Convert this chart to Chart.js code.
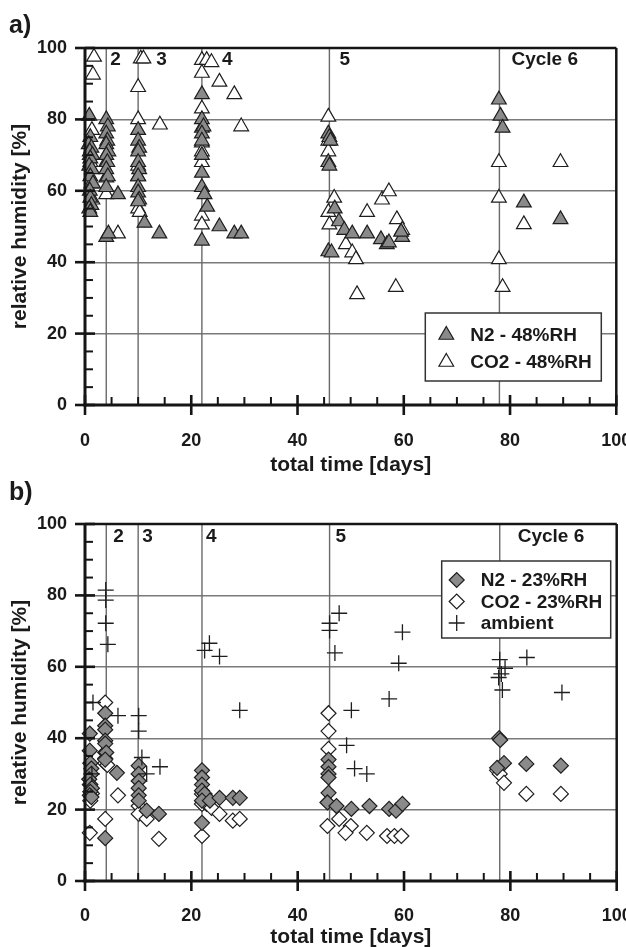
<!DOCTYPE html>
<html>
<head>
<meta charset="utf-8">
<script src="https://cdn.jsdelivr.net/npm/chart.js@4.4.1/dist/chart.umd.min.js"></script>
<style>
  body { margin: 0; background: #fff; }
  #panelA { position: absolute; left: 0; top: 0; width: 626px; height: 480px; }
  #panelB { position: absolute; left: 0; top: 480px; width: 626px; height: 470px; }
</style>
</head>
<body>
<div id="panelA"><canvas id="chartA" width="626" height="480"></canvas></div>
<div id="panelB"><canvas id="chartB" width="626" height="470"></canvas></div>
<script>
// ---- data ----

// a) 48%RH
const n2A_days = [0.8, 1, 0.7, 1.2, 0.9, 1.4, 1, 0.8, 1.3, 1, 1.5, 0.9, 1, 1.2, 0.8, 1,
    4, 4.3, 4, 4.2, 4, 4.4, 4, 4.2, 4, 4.3, 4, 4, 4.4, 6.2,
    10, 10, 10.2, 10, 10, 10.2, 10, 10, 10, 10.2, 10, 11.2, 14,
    22, 22, 22.3, 22, 22, 22, 22, 22, 22.5, 23, 22, 25.3, 28.1, 29.4,
    45.8, 46, 46.2, 45.8, 46, 45.8, 46.4, 47, 47.8, 48.8, 50.3, 53.1, 55.7, 56.8, 57.2, 59.7, 59.5,
    77.9, 78.2, 78.6, 82.6, 89.5];
const n2A_rh = [81, 75, 73, 72, 71, 70, 69, 67, 66, 64, 62, 60, 58, 56, 55, 54,
    80, 78, 76, 74, 73, 71, 70, 68, 66, 64, 61, 47, 48, 59,
    77, 74, 72, 71, 68, 66, 64, 61, 59.5, 57.5, 57, 51, 48,
    87, 80, 78, 76, 74, 70, 65, 61, 59, 55.5, 46, 50, 48, 48,
    76, 75, 74, 68, 67, 43, 42.7, 55, 51.4, 49, 48, 48, 46.4, 45, 45.5, 47, 48.5,
    85.5, 81, 77.6, 56.7, 52];

const co2A_days = [1.7, 1.5, 1.3, 1, 1.2, 1.4, 0.9,
    4, 4, 4, 6.2,
    10.5, 11, 10, 10, 10, 10, 10, 10.3, 14.1,
    22, 22.9, 23.8, 22, 25.3, 28.1, 22, 29.4, 22, 22, 22, 22, 22, 22,
    45.8, 45.8, 45.8, 46.9, 45.8, 46, 49.1, 50.3, 51, 51.2, 53.1, 55.9, 57.2, 58.7, 59.7, 58.5,
    77.9, 77.9, 77.9, 78.6, 82.6, 89.5];
const co2A_rh = [97.5, 92.5, 77, 68, 62, 57.5, 70,
    68, 63.7, 59, 48,
    97, 97, 89, 80, 67, 64, 55, 54, 78.5,
    96.6, 96.6, 96, 93, 90.5, 87, 83, 78, 77.6, 73.5, 71, 68, 53, 50.5,
    80.7, 74, 71, 58, 54, 50.5, 45, 42.7, 40.8, 31, 54, 57.5, 59.8, 52, 49, 33,
    68, 58, 40.8, 33, 50.6, 68];

// b) 23%RH
const n2B_days = [0.9, 0.9, 1, 1.2, 1.2, 0.8, 1, 1.3, 1, 0.9, 1.2,
    3.8, 3.8, 3.8, 3.8, 3.8, 4, 3.8, 3.8, 6,
    10.1, 10.1, 10.1, 10.1, 10.1, 10.1, 11.6, 13.9,
    22, 22, 22, 22, 22.5, 22, 23.5, 22, 25.3, 27.8, 29.1,
    45.8, 45.8, 45.8, 45.8, 45.8, 45.6, 47.3, 50.1, 53.5, 57.2, 58.5, 59.7,
    77.9, 78.1, 78.8, 77.5, 83, 89.5];
const n2B_rh = [41.3, 36.5, 33, 31.5, 30, 28.5, 27, 26, 25, 24, 23.5,
    47, 43.5, 42.4, 39.3, 38.5, 36, 34, 12, 30.3,
    32.3, 30, 28, 26, 24, 22.5, 19.7, 18.8,
    31, 29, 27, 25.3, 24.4, 22.5, 22.5, 16.3, 23.3, 23.3, 23.3,
    34, 32, 30, 29, 24.7, 22, 21, 20.2, 21, 20.2, 19.7, 21.6,
    40, 39.5, 33, 31.7, 32.8, 32.3];

const co2B_days = [0.9, 1, 1.3, 0.9,
    3.8, 3.8, 3.8, 3.8, 4.2, 3.8, 6.2,
    10.1, 10.1, 11.6, 13.9,
    22, 22, 22.9, 23.8, 22, 25.3, 27.8, 29.1,
    45.8, 45.8, 45.8, 45.6, 47.8, 50, 49, 53, 56.8, 58.2, 59.5,
    77.5, 78, 78.8, 83, 89.5];
const co2B_rh = [13.5, 22.5, 24.5, 27,
    50, 36, 34.3, 33, 32.5, 17.4, 24,
    21, 18.8, 17.4, 11.8,
    24.4, 21.6, 21.6, 20.5, 12.6, 18.8, 16.9, 17.4,
    47, 42, 37, 15.4, 17.4, 15.4, 13.5, 13.5, 12.6, 12.6, 12.6,
    31, 30, 27.5, 24.4, 24.4];

const ambB_days = [1.5, 1.3,
    3.9, 3.9, 3.9, 4.3, 6.2,
    10.1, 10.1, 10.7, 11.6, 14.1,
    22.5, 23.4, 25.3, 29.1,
    46, 46, 47.8, 47, 50.1, 49.2, 50.7, 53, 57.2, 59.7, 59,
    78, 78.3, 79, 77.8, 78.5, 83.1, 89.7];
const ambB_rh = [50, 30,
    81.5, 78.7, 72.2, 66.3, 46.3,
    46.3, 42, 34.6, 30, 32,
    64.6, 66.6, 62.9, 47.8,
    72.2, 70.2, 75, 63.9, 47.8, 38, 31.5, 30, 51, 69.7, 61,
    62, 58, 59.6, 57, 53.5, 62.6, 52.8];

// cycle boundaries (vertical lines) and their labels
const cycleDays = [4, 10, 22, 46, 78];
const cycleLabels = ['2', '3', '4', '5', 'Cycle 6'];

const FONT = "'Liberation Sans', Arial, Helvetica, sans-serif";
Chart.defaults.font.family = FONT;

const toPoints = (days, rh) => days.map((d, i) => ({ x: d, y: rh[i] }));

function line(ctx, x1, y1, x2, y2) {
    ctx.beginPath();
    ctx.moveTo(x1, y1);
    ctx.lineTo(x2, y2);
    ctx.stroke();
}

// draws a legend marker with the same style as the dataset points
function drawMarker(ctx, ds, x, y) {
    ctx.fillStyle = ds.backgroundColor;
    ctx.strokeStyle = ds.borderColor;
    ctx.lineWidth = ds.borderWidth;
    if (Chart.helpers && Chart.helpers.drawPoint) {
        Chart.helpers.drawPoint(ctx, { pointStyle: ds.pointStyle, radius: ds.pointRadius, borderWidth: ds.borderWidth, rotation: 0 }, x, y);
        return;
    }
    const r = ds.pointRadius;
    ctx.beginPath();
    if (ds.pointStyle === 'triangle') {
        ctx.moveTo(x, y - r);
        ctx.lineTo(x + r * 0.866, y + r / 2);
        ctx.lineTo(x - r * 0.866, y + r / 2);
        ctx.closePath();
        ctx.fill();
    } else if (ds.pointStyle === 'rectRot') {
        ctx.moveTo(x - r, y); ctx.lineTo(x, y - r); ctx.lineTo(x + r, y); ctx.lineTo(x, y + r);
        ctx.closePath();
        ctx.fill();
    } else {
        ctx.moveTo(x - r, y); ctx.lineTo(x + r, y);
        ctx.moveTo(x, y - r); ctx.lineTo(x, y + r);
    }
    ctx.stroke();
}

// frame, inside/outside ticks, cycle lines + labels, panel letter, boxed legend
const panelDecor = {
    id: 'panelDecor',
    beforeDatasetsDraw(chart) {
        const { ctx, chartArea: a, scales: { x } } = chart;
        ctx.save();
        ctx.strokeStyle = '#6a6a6a';
        ctx.lineWidth = 1.4;
        cycleDays.forEach(d => {
            const px = x.getPixelForValue(d);
            line(ctx, px, a.top, px, a.bottom);
        });
        ctx.restore();
    },
    afterDatasetsDraw(chart, args, opts) {
        const { ctx, chartArea: a, scales: { x, y } } = chart;
        ctx.save();
        ctx.strokeStyle = '#151515';
        ctx.lineCap = 'butt';

        // frame
        ctx.lineWidth = 2.5;
        line(ctx, a.left, a.top, a.right, a.top);
        line(ctx, a.right, a.top, a.right, a.bottom + 1);
        ctx.lineWidth = 3;
        line(ctx, a.left, a.top - 1, a.left, a.bottom + 1.5);
        line(ctx, a.left - 1.5, a.bottom, a.right + 1, a.bottom);

        // ticks, every 5 units, labelled ones cross the axis
        for (let v = 0; v <= 100; v += 5) {
            const py = y.getPixelForValue(v);
            const px = x.getPixelForValue(v);
            if (v % 20 === 0) {
                ctx.lineWidth = 2.6;
                line(ctx, a.left - 10, py, a.left + 10, py);
                line(ctx, px, a.bottom - 10, px, a.bottom + 10);
            } else {
                ctx.lineWidth = 2;
                line(ctx, a.left, py, a.left + 8, py);
                line(ctx, px, a.bottom - 8, px, a.bottom);
            }
        }

        // cycle labels
        ctx.fillStyle = '#1a1a1a';
        ctx.font = 'bold 19px ' + FONT;
        ctx.textBaseline = 'middle';
        ctx.textAlign = 'left';
        cycleDays.forEach((d, i) => {
            ctx.fillText(cycleLabels[i], x.getPixelForValue(d) + opts.labelOffsets[i], a.top + opts.labelDy);
        });

        // panel letter
        ctx.font = 'bold 25px ' + FONT;
        ctx.textBaseline = 'alphabetic';
        ctx.fillText(opts.letter, 9, opts.letterY);

        // legend box
        const lg = opts.legend;
        const bx = a.right - lg.right - lg.width;
        const by = lg.bottom !== undefined ? a.bottom - lg.bottom - lg.height : a.top + lg.top;
        ctx.fillStyle = '#fff';
        ctx.fillRect(bx, by, lg.width, lg.height);
        ctx.strokeStyle = '#333';
        ctx.lineWidth = 1.5;
        ctx.strokeRect(bx, by, lg.width, lg.height);
        chart.data.datasets.forEach((ds, i) => {
            const ry = by + lg.firstRow + i * lg.rowH;
            drawMarker(ctx, ds, bx + lg.markerX, ry);
            ctx.fillStyle = '#1a1a1a';
            ctx.font = 'bold 19px ' + FONT;
            ctx.textBaseline = 'middle';
            ctx.textAlign = 'left';
            ctx.fillText(ds.label, bx + lg.textX, ry + 1);
        });
        ctx.restore();
    }
};

function makePanel(canvasId, datasets, p) {
    return new Chart(document.getElementById(canvasId), {
        type: 'scatter',
        data: { datasets: datasets },
        options: {
            responsive: false,
            animation: false,
            devicePixelRatio: 1,
            events: [],
            layout: { padding: { left: 0, right: 8, top: p.top, bottom: 0 } },
            plugins: {
                legend: { display: false },
                tooltip: { enabled: false },
                panelDecor: p.decor
            },
            scales: {
                x: {
                    type: 'linear', min: 0, max: 100,
                    grid: { display: false },
                    border: { display: false },
                    ticks: { stepSize: 20, padding: p.xTickPad, color: '#1a1a1a', font: { size: 18, weight: 'bold' } },
                    title: { display: true, text: 'total time [days]', color: '#1a1a1a', font: { size: 21, weight: 'bold' }, padding: { top: 0, bottom: p.xTitlePad } },
                    afterFit(scale) {
                        scale.height = p.xHeight;
                        scale.paddingLeft = 0;
                        scale.paddingRight = 0;
                    }
                },
                y: {
                    min: 0, max: 100,
                    grid: { color: '#7a7a7a', lineWidth: 1.4, drawTicks: false },
                    border: { display: false },
                    ticks: { stepSize: 20, padding: 18, color: '#1a1a1a', font: { size: 18, weight: 'bold' } },
                    title: { display: true, text: 'relative humidity [%]', color: '#1a1a1a', font: { size: 21, weight: 'bold' }, padding: { top: 8, bottom: 0 } },
                    afterFit(scale) {
                        scale.width = 85;
                        scale.paddingTop = 0;
                        scale.paddingBottom = 0;
                    }
                }
            }
        },
        plugins: [panelDecor]
    });
}

// panel a)
makePanel('chartA', [
    { label: 'N2 - 48%RH', data: toPoints(n2A_days, n2A_rh), pointStyle: 'triangle', pointRadius: 8.5,
      backgroundColor: '#8a8a8a', borderColor: '#1e1e1e', borderWidth: 1.2, clip: false },
    { label: 'CO2 - 48%RH', data: toPoints(co2A_days, co2A_rh), pointStyle: 'triangle', pointRadius: 8.5,
      backgroundColor: '#ffffff', borderColor: '#1e1e1e', borderWidth: 1.2, clip: false }
], {
    top: 48, xHeight: 75, xTickPad: 17, xTitlePad: 2,
    decor: {
        letter: 'a)', letterY: 33,
        labelOffsets: [4, 18, 20, 10, 12], labelDy: 12,
        legend: { right: 15, bottom: 24, width: 176, height: 68, firstRow: 22, rowH: 27, markerX: 21, textX: 45 }
    }
});

// panel b)
makePanel('chartB', [
    { label: 'N2 - 23%RH', data: toPoints(n2B_days, n2B_rh), pointStyle: 'rectRot', pointRadius: 7.5, order: 1,
      backgroundColor: '#8a8a8a', borderColor: '#1e1e1e', borderWidth: 1.2, clip: false },
    { label: 'CO2 - 23%RH', data: toPoints(co2B_days, co2B_rh), pointStyle: 'rectRot', pointRadius: 7.5, order: 2,
      backgroundColor: '#ffffff', borderColor: '#1e1e1e', borderWidth: 1.2, clip: false },
    { label: 'ambient', data: toPoints(ambB_days, ambB_rh), pointStyle: 'cross', pointRadius: 8, order: 0,
      backgroundColor: '#1e1e1e', borderColor: '#1e1e1e', borderWidth: 1.3, clip: false }
], {
    top: 44, xHeight: 69, xTickPad: 16, xTitlePad: 0,
    decor: {
        letter: 'b)', letterY: 20,
        labelOffsets: [7, 4, 4, 6, 18], labelDy: 13,
        legend: { right: 6, top: 37, width: 169, height: 77, firstRow: 19, rowH: 21.5, markerX: 15, textX: 39 }
    }
});
</script>
</body>
</html>
